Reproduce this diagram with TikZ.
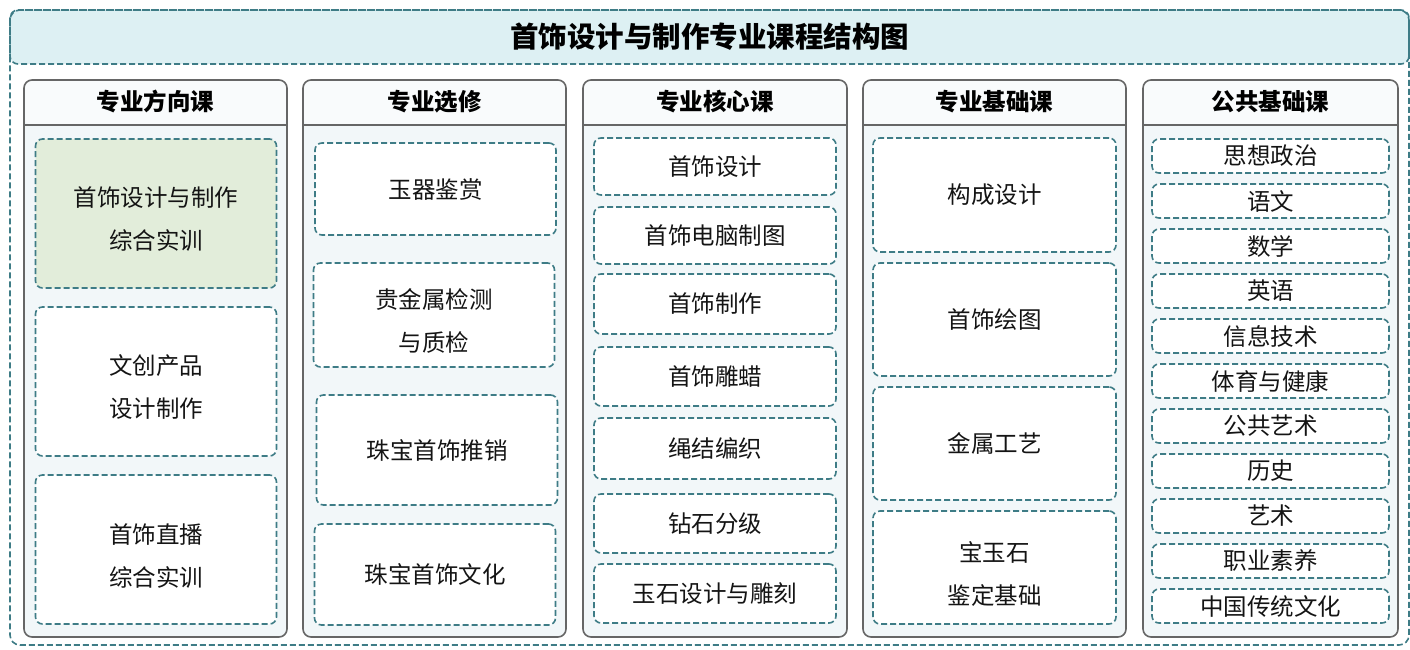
\documentclass[tikz,border=0pt]{standalone}
\usepackage{fontspec}
\setmainfont{Noto Sans CJK SC}
\usetikzlibrary{positioning,calc}

\definecolor{dashteal}{HTML}{3E7C86}
\definecolor{bandfill}{HTML}{DDF0F3}
\definecolor{colgray}{HTML}{666666}
\definecolor{colbody}{HTML}{F2F7F9}
\definecolor{headfill}{HTML}{F9FBFC}
\definecolor{greenfill}{HTML}{E2EDDA}
\definecolor{inktext}{HTML}{141414}

\tikzset{
  dashline/.style={draw=dashteal, line width=1.6pt, dash pattern=on 6pt off 3pt},
  course/.style={dashline, rounded corners=7pt, fill=white, minimum width=241pt, inner sep=0pt, align=center, text=inktext, font=\fontsize{23.5}{43}\selectfont},
  twotext/.style={inner sep=0pt, align=center, text=inktext, font=\fontsize{23.5}{43}\selectfont},
  colbox/.style={draw=colgray, line width=1.6pt, rounded corners=8pt, fill=colbody, minimum height=557pt, inner sep=0pt,
    path picture={
      \fill[headfill] (path picture bounding box.north west) rectangle ([yshift=-45pt]path picture bounding box.north east);
      \draw[colgray, line width=1.6pt] ([yshift=-45pt]path picture bounding box.north west) -- ([yshift=-45pt]path picture bounding box.north east);
    }},
  colhead/.style={font=\bfseries\fontsize{23.5}{28}\selectfont, text=black},
}

\begin{document}
\begin{tikzpicture}[x=1pt, y=-1pt]
	\useasboundingbox (0,0) rectangle (1410,649);
	
	% title band and outer frame
	\node[dashline, fill=bandfill, rounded corners=8pt, minimum width=1399pt, minimum height=54pt, inner sep=0pt] (band) at (709.5,37) {};
	\node[font=\bfseries\fontsize{28.5}{34}\selectfont, text=black] (title) at (band.center) {首饰设计与制作专业课程结构图};
	\node[dashline, rounded corners=10pt, minimum width=1399pt, minimum height=635pt] (frame) at (709.5,327.5) {};
	
	% columns
	\foreach \name/\cx/\w/\ttl in {dir/155.5/263/专业方向课, ele/434.5/263/专业选修, core/715/264/专业核心课, base/994.5/263/专业基础课, pub/1270.5/255/公共基础课} {
		\node[colbox, minimum width=\w pt] (\name) at (\cx,358.5) {};
		\node[colhead] (\name-head) at ($(\name.north)+(0,22.5)$) {\ttl};
	}
	
	% 专业方向课
	\node[course, fill=greenfill, minimum height=149pt] (dir1) at (156,213.5) {};
	\node[twotext] (dir1-text) at ([yshift=-6pt]dir1.center) {首饰设计与制作\\综合实训};
	\node[course, minimum height=149pt] (dir2) at (156,381.5) {};
	\node[twotext] (dir2-text) at ([yshift=-6pt]dir2.center) {文创产品\\设计制作};
	\node[course, minimum height=149pt] (dir3) at (156,549.5) {};
	\node[twotext] (dir3-text) at ([yshift=-6pt]dir3.center) {首饰直播\\综合实训};
	
	% 专业选修
	\node[course, minimum height=92pt] (ele1) at (435.5,189) {玉器鉴赏};
	\node[course, minimum height=104pt] (ele2) at (434,315) {};
	\node[twotext] (ele2-text) at ([yshift=-6pt]ele2.center) {贵金属检测\\与质检};
	\node[course, minimum height=110pt] (ele3) at (437,450) {珠宝首饰推销};
	\node[course, minimum height=101pt] (ele4) at (435,574.5) {珠宝首饰文化};
	
	% 专业核心课
	\node[course, minimum width=242pt, minimum height=57pt] (core1) at (715,166.5) {首饰设计};
	\node[course, minimum width=242pt, minimum height=57pt] (core2) at (715,235.5) {首饰电脑制图};
	\node[course, minimum width=242pt, minimum height=60pt] (core3) at (715,304) {首饰制作};
	\node[course, minimum width=242pt, minimum height=59pt] (core4) at (715,376.5) {首饰雕蜡};
	\node[course, minimum width=242pt, minimum height=61pt] (core5) at (715,448.5) {绳结编织};
	\node[course, minimum width=242pt, minimum height=59pt] (core6) at (715,523.5) {钻石分级};
	\node[course, minimum width=242pt, minimum height=59pt] (core7) at (715,593.5) {玉石设计与雕刻};
	
	% 专业基础课
	\node[course, minimum width=243pt, minimum height=114pt] (base1) at (994.5,195) {构成设计};
	\node[course, minimum width=243pt, minimum height=113pt] (base2) at (994.5,319.5) {首饰绘图};
	\node[course, minimum width=243pt, minimum height=113pt] (base3) at (994.5,443.5) {金属工艺};
	\node[course, minimum width=243pt, minimum height=113pt] (base4) at (994.5,567.5) {};
	\node[twotext] (base4-text) at ([yshift=-6pt]base4.center) {宝玉石\\鉴定基础};
	
	% 公共基础课
	\foreach \t [count=\i] in {思想政治, 语文, 数学, 英语, 信息技术, 体育与健康, 公共艺术, 历史, 艺术, 职业素养, 中国传统文化}
		\node[course, minimum width=237pt, minimum height=34pt] (pub\i) at (1270.5,{111+45*\i}) {\t};
\end{tikzpicture}
\end{document}
